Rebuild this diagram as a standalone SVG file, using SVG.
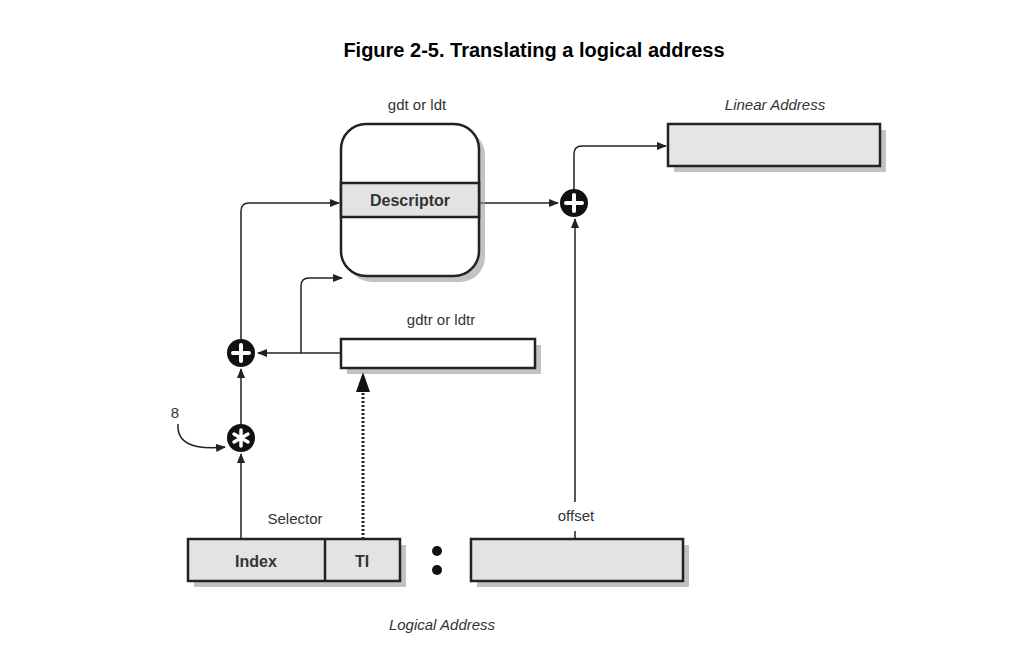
<svg xmlns="http://www.w3.org/2000/svg" width="1022" height="649" viewBox="0 0 1022 649">
<defs>
<marker id="ah" markerWidth="10" markerHeight="8" refX="9" refY="4" orient="auto" markerUnits="userSpaceOnUse"><path d="M0,0 L10,4 L0,8 z" fill="#222"/></marker>
</defs>
<style>
.t{font-family:"Liberation Sans",Arial,sans-serif;fill:#333;font-size:15px;text-anchor:middle}
.b{font-weight:bold}
.i{font-style:italic}
.box{stroke:#222;stroke-width:2.5}
.sh{fill:#999;opacity:0.6}
.ln{fill:none;stroke:#222;stroke-width:1.5}
.op{fill:#111}
.sym{stroke:#fff;stroke-width:4;stroke-linecap:round}
</style>
<rect width="1022" height="649" fill="#fff"/>
<text class="t b" x="534" y="57" style="font-size:20px;fill:#000">Figure 2-5. Translating a logical address</text>

<g id="connectors">
<path class="ln" d="M479,203 H558" marker-end="url(#ah)"/>
<path class="ln" d="M574,189 V154 Q574,146 582,146 H666" marker-end="url(#ah)"/>
<path class="ln" d="M575,540 V531"/>
<path class="ln" d="M575,502 V219" marker-end="url(#ah)"/>
<path class="ln" d="M341,353 H258" marker-end="url(#ah)"/>
<path class="ln" d="M301,353 V286 Q301,278 309,278 H342" marker-end="url(#ah)"/>
<path class="ln" d="M241,339 V211 Q241,203 249,203 H339" marker-end="url(#ah)"/>
<path class="ln" d="M241,424 V369" marker-end="url(#ah)"/>
<path class="ln" d="M241,539 V454" marker-end="url(#ah)"/>
<path class="ln" d="M178,424 Q176,452 225,447" marker-end="url(#ah)"/>
<path d="M363,539 V384" fill="none" stroke="#222" stroke-width="3" stroke-dasharray="2,2"/>
<path d="M356,392 L363,372 L370,392 z" fill="#111"/>
</g>

<g id="gdt">
<rect class="sh" x="347" y="130" width="138" height="152" rx="25"/>
<rect class="box" x="341" y="124" width="138" height="152" rx="25" fill="#fff"/>
<rect class="box" x="341" y="183" width="138" height="34" fill="#e3e3e3"/>
<text class="t b" x="410" y="206" style="font-size:16px">Descriptor</text>
<text class="t" x="417" y="110">gdt or ldt</text>
</g>

<g id="linear">
<rect class="sh" x="674" y="130" width="212" height="42"/>
<rect class="box" x="668" y="124" width="212" height="42" fill="#e5e5e5"/>
<text class="t i" x="775" y="110">Linear Address</text>
</g>

<g id="plus2">
<circle class="op" cx="574" cy="203" r="14"/>
<path class="sym" d="M566,203 H582 M574,195 V211"/>
</g>

<g id="gdtr">
<rect class="sh" x="347" y="345" width="194" height="29"/>
<rect class="box" x="341" y="339" width="194" height="29" fill="#fff"/>
<text class="t" x="441" y="325">gdtr or ldtr</text>
</g>

<g id="plus1">
<circle class="op" cx="241" cy="353" r="14"/>
<path class="sym" d="M233,353 H249 M241,345 V361"/>
</g>

<g id="mult">
<circle class="op" cx="241" cy="438" r="14"/>
<path d="M241,430 V446 M234,434 L248,442 M234,442 L248,434" stroke="#fff" stroke-width="3.5" stroke-linecap="round"/>
<text class="t" x="175" y="418">8</text>
</g>

<g id="selector">
<rect class="sh" x="194" y="545" width="212" height="42"/>
<rect class="box" x="188" y="539" width="212" height="42" fill="#e3e3e3"/>
<line class="box" x1="325" y1="539" x2="325" y2="581"/>
<text class="t b" x="256" y="567" style="font-size:16px">Index</text>
<text class="t b" x="362" y="567" style="font-size:16px">TI</text>
<text class="t" x="295" y="524">Selector</text>
</g>

<g id="colon">
<circle cx="437" cy="551" r="5" fill="#111"/>
<circle cx="437" cy="570" r="5" fill="#111"/>
</g>

<g id="offset">
<rect class="sh" x="477" y="545" width="212" height="42"/>
<rect class="box" x="471" y="539" width="212" height="42" fill="#e3e3e3"/>
<text class="t" x="576" y="521">offset</text>
</g>

<text class="t i" x="442" y="630">Logical Address</text>
</svg>
